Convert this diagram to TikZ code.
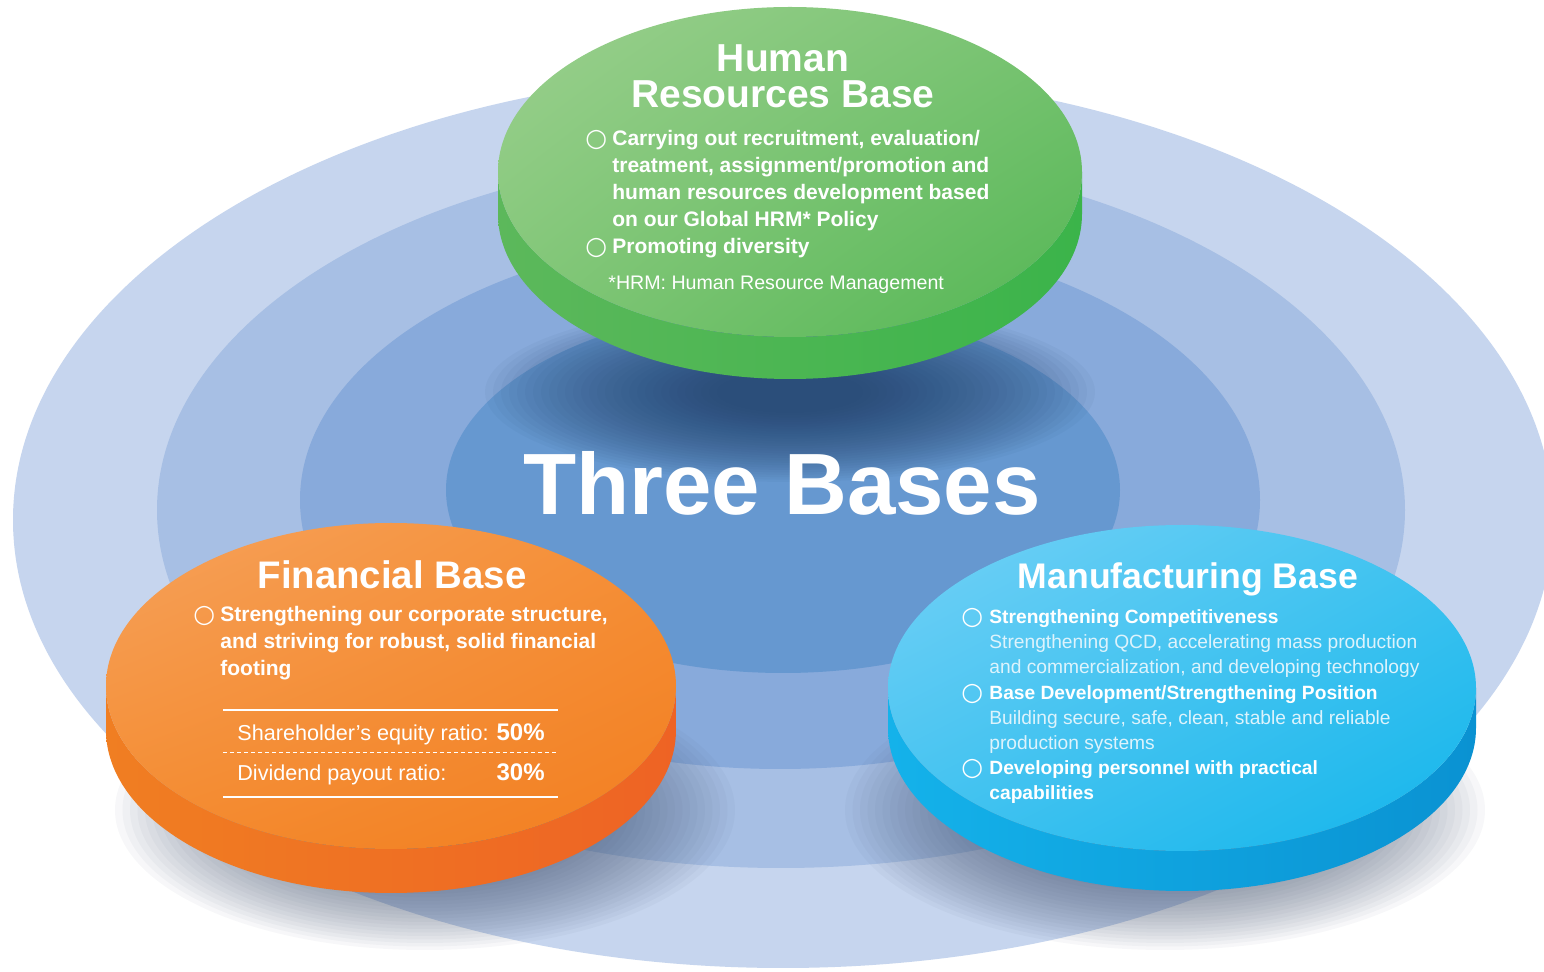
\documentclass[tikz,border=0pt]{standalone}
\usepackage{fontspec}
\setmainfont{Liberation Sans}
\newfontfamily\symf{DejaVu Sans}
\usetikzlibrary{shadings}
\definecolor{ringA}{HTML}{C6D5EE}
\definecolor{ringB}{HTML}{A7BFE4}
\definecolor{ringC}{HTML}{88AADB}
\definecolor{ringD}{HTML}{6698D0}
\definecolor{gUL}{HTML}{9CD08F}
\definecolor{gUR}{HTML}{78C371}
\definecolor{gLL}{HTML}{80C676}
\definecolor{gLR}{HTML}{52B653}
\definecolor{gS1}{HTML}{5CB85B}
\definecolor{gS2}{HTML}{3BB44A}
\definecolor{oUL}{HTML}{F6A25C}
\definecolor{oUR}{HTML}{F58F36}
\definecolor{oLL}{HTML}{F48B2F}
\definecolor{oLR}{HTML}{F27E20}
\definecolor{oS1}{HTML}{F07E22}
\definecolor{oS2}{HTML}{EE6324}
\definecolor{bUL}{HTML}{74D1F6}
\definecolor{bUR}{HTML}{40C3F0}
\definecolor{bLL}{HTML}{40C2F0}
\definecolor{bLR}{HTML}{12B5EB}
\definecolor{bS1}{HTML}{14B2EA}
\definecolor{bS2}{HTML}{0A92D2}
\definecolor{shadeG}{HTML}{1F3D66}
\definecolor{shadeO}{HTML}{4A5A76}
\definecolor{lightTxt}{HTML}{DDF3FC}
\newcommand{\myfs}[2]{\fontsize{#1}{#2}\selectfont}
\newcommand{\bul}{{\symf\myfs{12.5}{14}○}}
\begin{document}
\begin{tikzpicture}[x=0.5pt,y=-0.5pt,
  txt/.style={inner sep=0pt, text=white, anchor=base west},
  ttl/.style={inner sep=0pt, text=white, anchor=base, font=\bfseries},
  bodyB/.style={txt, font=\bfseries\myfs{10.5}{13}},
  mfgB/.style={txt, font=\bfseries\myfs{9.6}{12}},
  mfgR/.style={txt, text=lightTxt, font=\myfs{9.6}{12}},
  rule/.style={white, line width=1pt}]
% background
\fill[white] (0,0) rectangle (1544,972);
\useasboundingbox (0,0) rectangle (1544,972);
% concentric rings
\fill[ringA] (783,520) ellipse [x radius=770, y radius=448];
\fill[ringB] (781,510) ellipse [x radius=624, y radius=358];
\fill[ringC] (780,500) ellipse [x radius=480, y radius=269];
\fill[ringD] (783,490) ellipse [x radius=337, y radius=183];
% soft shadows (layered)
\foreach \k in {0,...,29} {
  \fill[shadeG, fill opacity=0.045] (790,392) ellipse [x radius={305-\k*8}, y radius={90-\k*2.4}];
  \fill[shadeO, fill opacity=0.045] (425,810) ellipse [x radius={310-\k*7.5}, y radius={140-\k*3.5}];
  \fill[shadeO, fill opacity=0.045] (1165,810) ellipse [x radius={320-\k*7.5}, y radius={140-\k*3.5}];
}
% green disc
\shade[left color=gS1, right color=gS2] (498,172) -- (498,214) arc[start angle=180,end angle=0,x radius=292,y radius=165] -- (1082,172) arc[start angle=0,end angle=180,x radius=292,y radius=165] -- cycle;
\shade[upper left=gUL, upper right=gUR, lower left=gLL, lower right=gLR] (790,172) ellipse [x radius=292, y radius=165];
% orange disc
\shade[left color=oS1, right color=oS2] (106,686) -- (106,730) arc[start angle=180,end angle=0,x radius=285,y radius=163] -- (676,686) arc[start angle=0,end angle=180,x radius=285,y radius=163] -- cycle;
\shade[upper left=oUL, upper right=oUR, lower left=oLL, lower right=oLR] (391,686) ellipse [x radius=285, y radius=163];
% blue disc
\shade[left color=bS1, right color=bS2] (888,688) -- (888,728) arc[start angle=180,end angle=0,x radius=294,y radius=163] -- (1476,688) arc[start angle=0,end angle=180,x radius=294,y radius=163] -- cycle;
\shade[upper left=bUL, upper right=bUR, lower left=bLL, lower right=bLR] (1182,688) ellipse [x radius=294, y radius=163];
% centre title
\node[ttl, font=\bfseries\myfs{43.5}{48}] (tb) at (782,515) {Three Bases};
% Human resources base
\node[ttl, font=\bfseries\myfs{19.5}{22}] (hrT1) at (783,72) {Human};
\node[ttl, font=\bfseries\myfs{19.5}{22}] (hrT2) at (783,108) {Resources Base};
\node[txt] (hrB1) at (585,147) {\bul};
\node[bodyB] (hr1) at (612,146) {Carrying out recruitment, evaluation/};
\node[bodyB] (hr2) at (612,173) {treatment, assignment/promotion and};
\node[bodyB] (hr3) at (612,200) {human resources development based};
\node[bodyB] (hr4) at (612,227) {on our Global HRM* Policy};
\node[txt] (hrB2) at (585,255) {\bul};
\node[bodyB] (hr5) at (612,254) {Promoting diversity};
\node[txt, font=\myfs{9.8}{12}] (hrN) at (608,290) {*HRM: Human Resource Management};
% Financial base
\node[ttl, font=\bfseries\myfs{19.2}{22}] (fT) at (392,589) {Financial Base};
\node[txt] (fB1) at (193,623) {\bul};
\node[bodyB] (f1) at (220,622) {Strengthening our corporate structure,};
\node[bodyB] (f2) at (220,649) {and striving for robust, solid financial};
\node[bodyB] (f3) at (220,676) {footing};
\coordinate (r1a) at (223,710); \coordinate (r1b) at (558,710);
\coordinate (r2a) at (223,753); \coordinate (r2b) at (558,753);
\coordinate (r3a) at (223,797); \coordinate (r3b) at (558,797);
\draw[rule] (r1a) -- (r1b);
\draw[white, line width=0.5pt, dash pattern=on 2pt off 1.5pt] (r2a) -- (r2b);
\draw[rule] (r3a) -- (r3b);
\node[txt, font=\myfs{10.8}{13}] (f4) at (237,741) {Shareholder’s equity ratio:};
\node[txt, anchor=base east, font=\bfseries\myfs{12}{14}] (f5) at (545,741) {50\%};
\node[txt, font=\myfs{10.8}{13}] (f6) at (237,781) {Dividend payout ratio:};
\node[txt, anchor=base east, font=\bfseries\myfs{12}{14}] (f7) at (545,781) {30\%};
% Manufacturing base
\node[ttl, font=\bfseries\myfs{17.8}{21}] (mT) at (1188,589) {Manufacturing Base};
\node[txt] (mB1) at (961,625) {\bul};
\node[mfgB] (m1) at (989,624) {Strengthening Competitiveness};
\node[mfgR] (m2) at (989,649) {Strengthening QCD, accelerating mass production};
\node[mfgR] (m3) at (989,674) {and commercialization, and developing technology};
\node[txt] (mB2) at (961,701) {\bul};
\node[mfgB] (m4) at (989,700) {Base Development/Strengthening Position};
\node[mfgR] (m5) at (989,725) {Building secure, safe, clean, stable and reliable};
\node[mfgR] (m6) at (989,750) {production systems};
\node[txt] (mB3) at (961,776) {\bul};
\node[mfgB] (m7) at (989,775) {Developing personnel with practical};
\node[mfgB] (m8) at (989,800) {capabilities};
\end{tikzpicture}
\end{document}
